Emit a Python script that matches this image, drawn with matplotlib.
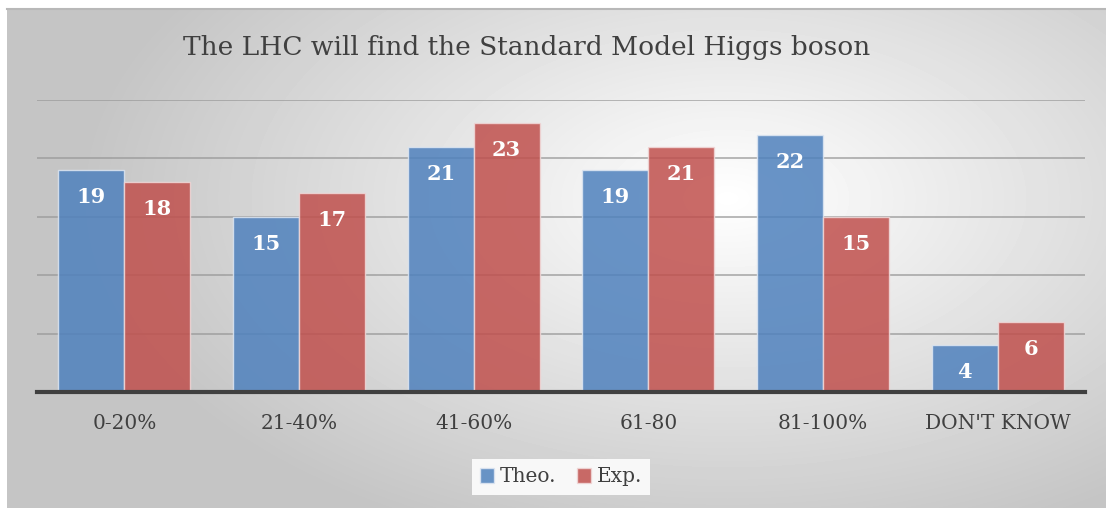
"""Survey bar chart: will the LHC find the SM Higgs boson."""
import numpy as np
import matplotlib.pyplot as plt
from matplotlib.patches import Patch

categories = ["0-20%", "21-40%", "41-60%", "61-80", "81-100%", "DON'T KNOW"]
theo = [19, 15, 21, 19, 22, 4]
exp_ = [18, 17, 23, 21, 15, 6]

SERIF = ["DejaVu Serif"]
BLUE, RED = "#4f81bd", "#c0504d"
W, H = 1106, 508

fig = plt.figure(figsize=(W / 100, H / 100), dpi=100)

# radial grey-to-white background panel
bg = fig.add_axes([7 / W, 0, 1 - 7 / W, 1 - 8 / H], zorder=0)
yy, xx = np.mgrid[0:500, 0:1099]
d = np.sqrt(((xx - 720) / 850) ** 2 + ((yy - 190) / 480) ** 2)
shade = np.clip(1.0 - 0.3 * d, 0.77, 1.0)
bg.imshow(shade, cmap="gray", vmin=0, vmax=1, aspect="auto", interpolation="bilinear")
bg.set_axis_off()
fig.add_artist(plt.Line2D([7 / W, 1], [1 - 8.5 / H] * 2, color="#b8b8b8", lw=1.5))

ax = fig.add_axes([37 / W, 116 / H, 1048 / W, 292 / H], zorder=1)
ax.patch.set_visible(False)
x = np.arange(len(categories))
bw = 0.377
b1 = ax.bar(x - bw / 2, theo, bw, color=BLUE, alpha=0.85, edgecolor="#dde6f2",
            linewidth=1, zorder=3, label="Theo.")
b2 = ax.bar(x + bw / 2, exp_, bw, color=RED, alpha=0.85, edgecolor="#f0d8d8",
            linewidth=1, zorder=3, label="Exp.")
for bars in (b1, b2):
    for r in bars:
        ax.text(r.get_x() + r.get_width() / 2, r.get_height() - 2.3, f"{int(r.get_height())}",
                ha="center", va="center", color="white", fontsize=15, fontweight="bold",
                family=SERIF, zorder=5)

ax.set_xlim(-0.5, len(categories) - 0.5)
ax.set_ylim(0, 25)
ax.set_yticks([5, 10, 15, 20, 25])
ax.yaxis.grid(True, color="#999999", lw=1.3, zorder=4, alpha=0.75)
ax.tick_params(axis="y", left=False, labelleft=False)
ax.tick_params(axis="x", bottom=False, pad=12)
ax.set_xticks(x)
ax.set_xticklabels(categories, fontsize=14.5, family=SERIF, color="#404040")
for s in ("top", "right", "left"):
    ax.spines[s].set_visible(False)
ax.spines["bottom"].set_color("#404040")
ax.spines["bottom"].set_linewidth(3)
ax.spines["bottom"].set_zorder(6)

fig.text(527 / W, 1 - 48 / H, "The LHC will find the Standard Model Higgs boson",
         ha="center", va="center", fontsize=19, family=SERIF, color="#404040")

handles = [Patch(facecolor=BLUE, alpha=0.85, edgecolor="#dde6f2", label="Theo."),
           Patch(facecolor=RED, alpha=0.85, edgecolor="#f0d8d8", label="Exp.")]
leg = fig.legend(handles=handles, loc="center", bbox_to_anchor=(561 / W, 1 - 477 / H),
                 ncol=2, frameon=True, fancybox=False, edgecolor="none",
                 facecolor="#f8f8f8", framealpha=1, handlelength=0.7, handleheight=0.7,
                 handletextpad=0.3, columnspacing=1.0,
                 prop={"family": SERIF, "size": 14.5})
for t in leg.get_texts():
    t.set_color("#404040")

plt.savefig("out.png", dpi=100, facecolor="white")
